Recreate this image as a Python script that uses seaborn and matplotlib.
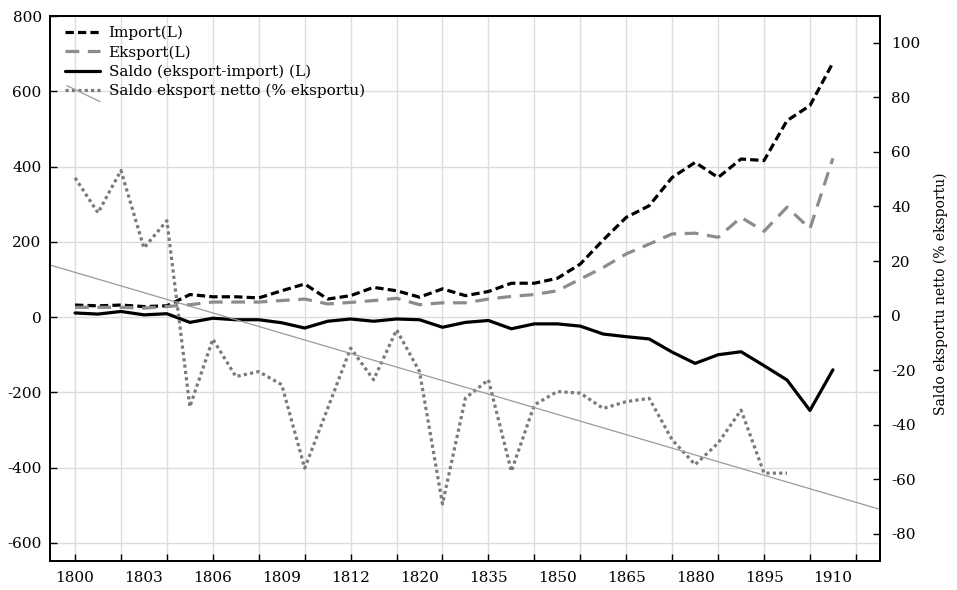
import numpy as np
import pandas as pd
import matplotlib
matplotlib.use("Agg")
import matplotlib.pyplot as plt
import seaborn as sns
from matplotlib.lines import Line2D
from matplotlib.legend_handler import HandlerBase

# ---- data ----
years = [1800, 1801, 1802, 1803, 1804, 1805, 1806, 1807, 1808, 1809, 1810, 1811,
         1812, 1815, 1818, 1820, 1825, 1830, 1835, 1840, 1845, 1850, 1855, 1860,
         1865, 1870, 1875, 1880, 1885, 1890, 1895, 1900, 1905, 1910]
import_vals = [32, 30, 32, 28, 30, 60, 54, 54, 51, 70, 88, 48, 57, 79, 70, 53, 75,
               57, 68, 90, 90, 103, 141, 205, 265, 296, 371, 411, 371, 420, 416,
               522, 562, 676]
export_vals = [26, 26, 26, 24, 28, 33, 40, 40, 40, 44, 48, 35, 39, 44, 50, 33, 38,
               38, 48, 55, 60, 70, 101, 132, 168, 194, 221, 223, 212, 265, 228,
               292, 235, 422]
saldo_vals = [11, 8, 15, 6, 9, -14, -3, -7, -7, -15, -29, -11, -5, -11, -5, -7, -27,
              -14, -9, -31, -18, -18, -24, -45, -52, -58, -93, -123, -100, -92, -129,
              -167, -248, -140]
netto_pct = [50.5, 37.7, 53.2, 24.8, 34.8, -33.4, -8.6, -22.3, -20.5, -25.3, -55.9,
             -34.0, -11.9, -23.5, -5.2, -20.5, -69.0, -30.2, -23.5, -57.0, -32.7,
             -27.8, -28.4, -34.0, -31.5, -30.3, -45.5, -54.6, -46.7, -34.6, -57.7,
             -57.7]
legend_labels = ["Import(L)", "Eksport(L)", "Saldo (eksport-import) (L)",
                 "Saldo eksport netto (% eksportu)"]
right_label = "Saldo eksportu netto (% eksportu)"

# ---- styling ----
sns.set_style("white")
plt.rcParams["font.family"] = ["DejaVu Serif"]
plt.rcParams["font.size"] = 11
plt.rcParams["axes.unicode_minus"] = False
plt.rcParams["xtick.direction"] = "in"
plt.rcParams["ytick.direction"] = "in"

styles = {
    "import": dict(color="black", linewidth=2.3, linestyle=(0, (2.6, 1.3))),
    "export": dict(color="#8c8c8c", linewidth=2.3, linestyle=(0, (4.3, 2.7))),
    "saldo": dict(color="black", linewidth=2.3, linestyle="-"),
    "pct": dict(color="#7a7a7a", linewidth=2.3, linestyle=(0, (1, 1))),
    "trend": dict(color="#9a9a9a", linewidth=0.9, linestyle="-"),
}

fig = plt.figure(figsize=(9.57, 5.90), dpi=100)
ax = fig.add_axes([50 / 957, 29 / 590, 830 / 957, 545 / 590])
ax2 = ax.twinx()

idx = np.arange(len(years))
df = pd.DataFrame({"idx": idx, "import": import_vals, "export": export_vals,
                   "saldo": saldo_vals})
df2 = pd.DataFrame({"idx": idx[:len(netto_pct)], "pct": netto_pct})

xlim = (-1.09, 35.05)
ax.set_xlim(*xlim)

sns.lineplot(data=df, x="idx", y="import", ax=ax, **styles["import"])
sns.lineplot(data=df, x="idx", y="export", ax=ax, **styles["export"])
sns.lineplot(data=df, x="idx", y="saldo", ax=ax, **styles["saldo"])

ax2.set_xlim(*xlim)
sns.lineplot(data=df2, x="idx", y="pct", ax=ax2, **styles["pct"])
sns.regplot(data=df2, x="idx", y="pct", ax=ax2, scatter=False, ci=None,
            truncate=False, line_kws=styles["trend"])

ax.set_xlim(*xlim)
ax.set_ylim(-648, 800)
ax2.set_ylim(-89.9, 109.8)

# x ticks: grid/tick marks every 2 categories, labels every 3 categories
ax.xaxis.remove_overlapping_locs = False
ax.set_xticks(idx[::2].tolist() + [34])
ax.set_xticklabels([])
ax.set_xticks(idx[::3], minor=True)
ax.set_xticklabels([str(y) for y in years[::3]], minor=True)
ax.tick_params(axis="x", which="major", direction="in", length=5, width=1,
               color="black", bottom=True, top=False)
ax.tick_params(axis="x", which="minor", direction="in", length=0, pad=7,
               labelsize=11, labelcolor="black", bottom=True, top=False)

ax.set_yticks(range(-600, 801, 200))
ax.tick_params(axis="y", direction="in", length=5, width=1, color="black",
               pad=6, labelsize=11, labelcolor="black", left=True)
ax2.set_yticks(range(-80, 101, 20))
ax2.tick_params(axis="y", direction="in", length=5, width=1, color="black",
                pad=8, labelsize=11, labelcolor="black", right=True)

ax.grid(True, which="major", axis="both", color="#dcdcdc", linewidth=1.0)
ax.grid(False, which="minor")
ax2.grid(False)
ax.set_axisbelow(True)

ax.set_xlabel("")
ax.set_ylabel("")
ax2.set_xlabel("")
ax2.set_ylabel(right_label, fontsize=10, color="black")
ax2.yaxis.set_label_coords(1.064, 0.49)

for a in (ax, ax2):
    for s in a.spines.values():
        s.set_color("black")
        s.set_linewidth(1.3)
        s.set_visible(True)


class DottedTrendHandler(HandlerBase):
    def create_artists(self, legend, orig_handle, xdescent, ydescent, width,
                       height, fontsize, trans):
        dot, trend = orig_handle
        y = height / 2.0 - ydescent
        x0 = -xdescent
        l1 = Line2D([x0, x0 + width], [y, y])
        self.update_prop(l1, dot, legend)
        l2 = Line2D([x0 + 0.05 * width, x0 + width], [y + 0.4 * height, y - 1.1 * height])
        self.update_prop(l2, trend, legend)
        l1.set_transform(trans)
        l2.set_transform(trans)
        return [l1, l2]


h_imp = Line2D([], [], **styles["import"])
h_exp = Line2D([], [], **styles["export"])
h_sal = Line2D([], [], **styles["saldo"])
h_pct = Line2D([], [], **styles["pct"])
h_tr = Line2D([], [], **styles["trend"])

leg = ax2.legend(handles=[h_imp, h_exp, h_sal, (h_pct, h_tr)], labels=legend_labels,
                 handler_map={tuple: DottedTrendHandler()}, loc="upper left",
                 bbox_to_anchor=(65 / 957, 1 - 26 / 590), bbox_transform=fig.transFigure,
                 frameon=False, borderpad=0, borderaxespad=0, handlelength=2.3,
                 handletextpad=0.55, labelspacing=0.32, fontsize=11)
for t in leg.get_texts():
    t.set_color("black")

fig.savefig("out.png", dpi=100)
